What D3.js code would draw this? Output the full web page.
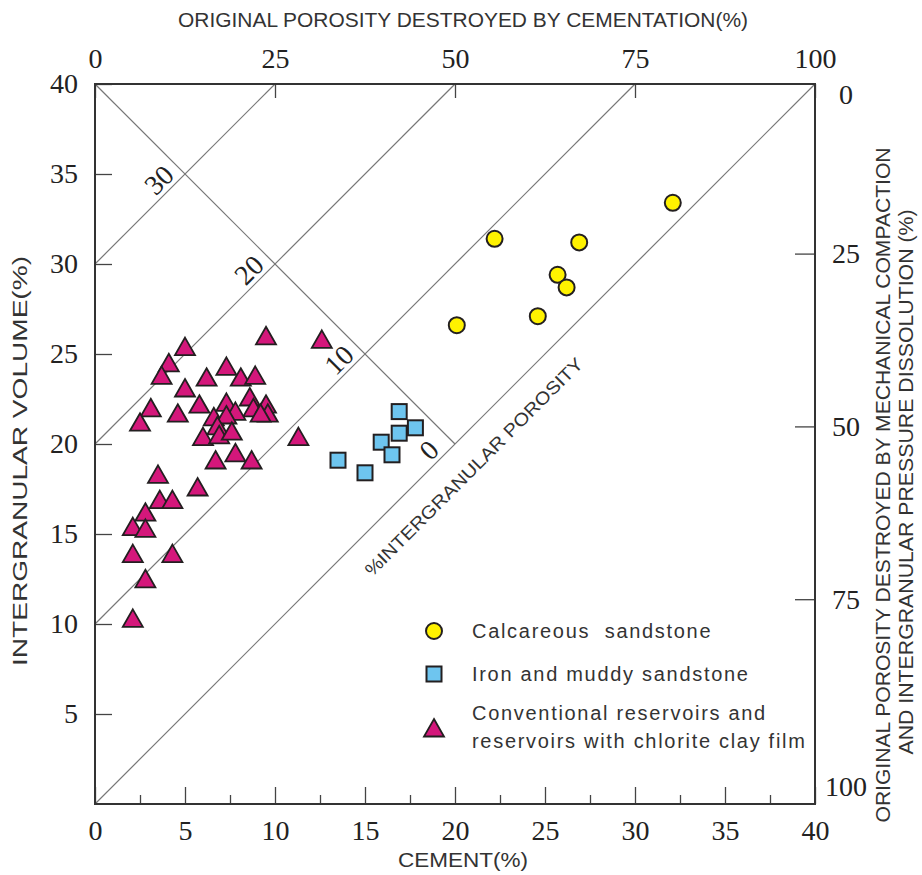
<!DOCTYPE html>
<html>
<head>
<meta charset="utf-8">
<script src="https://d3js.org/d3.v7.min.js"></script>
<style>
  body { margin: 0; background: #fff; }
  .tick line { stroke: #444; stroke-width: 1.3; }
  .sans { font-family: "Liberation Sans Narrow", "Liberation Sans", Arial, sans-serif; fill: #333; }
  .legend { font-family: "Liberation Sans", Arial, sans-serif; font-size: 20px; fill: #333; letter-spacing: 1.7px; }
  .guide { stroke: #777; stroke-width: 1.2; fill: none; }
</style>
</head>
<body>
<svg id="chart" width="922" height="875"></svg>
<script>
// axis ticks
var cementTicks = [0, 5, 10, 15, 20, 25, 30, 35, 40];
var cementMinor = [2.5, 7.5, 12.5, 17.5, 22.5, 27.5, 32.5, 37.5];
var igvTicks = [5, 10, 15, 20, 25, 30, 35, 40];
var cementPctTicks = [0, 25, 50, 75, 100];
var compactPctTicks = [0, 25, 50, 75, 100];
var compactPctIgv = [40, 30.55, 20.95, 11.35, 0]; // where the right-hand labels sit, in IGV units
var porosityLevels = [0, 10, 20, 30];

// calcareous sandstone
var calcX = [20.1, 22.2, 24.6, 25.7, 26.2, 26.9, 32.1];
var calcY = [26.6, 31.4, 27.1, 29.4, 28.7, 31.2, 33.4];
// iron and muddy sandstone
var ironX = [13.5, 15.0, 15.9, 16.5, 16.9, 16.9, 17.8];
var ironY = [19.1, 18.4, 20.1, 19.4, 20.6, 21.8, 20.9];
// conventional reservoirs / chlorite clay film
var convX = [9.5, 12.6, 5.0, 4.1, 3.7, 7.3, 6.2, 8.1, 8.9, 5.0, 3.1, 2.5, 4.6, 5.8,
             7.3, 8.6, 8.8, 9.5, 9.6, 9.2, 7.8, 6.6, 7.3, 6.8, 6.0, 6.9, 7.6, 11.3,
             6.7, 7.8, 8.7, 3.5, 5.7, 3.6, 4.3, 2.8, 2.1, 2.8, 2.1, 4.3, 2.8, 2.1];
var convY = [25.9, 25.7, 25.3, 24.4, 23.7, 24.2, 23.6, 23.6, 23.7, 23.0, 21.9, 21.1, 21.6, 22.1,
             22.2, 22.5, 21.9, 22.1, 21.6, 21.6, 21.7, 21.4, 21.5, 20.9, 20.3, 20.4, 20.6, 20.3,
             19.0, 19.4, 19.0, 18.2, 17.5, 16.8, 16.8, 16.1, 15.3, 15.2, 13.8, 13.8, 12.4, 10.2];

var serif = "'Liberation Serif', 'DejaVu Serif', serif";

var svg = d3.select("#chart");
var pL = 95, pR = 815, pT = 84, pB = 804;

var x = d3.scaleLinear().domain([0, 40]).range([pL, pR]);
var y = d3.scaleLinear().domain([0, 40]).range([pB, pT]);
var xTop = d3.scaleLinear().domain([0, 100]).range([pL, pR]);
var rightPct = d3.scaleLinear().domain(compactPctTicks).range(compactPctIgv);
var yRight = function (p) { return y(rightPct(p)); };

// porosity guide lines (IGV = cement + c)
svg.selectAll(".pline").data(porosityLevels).enter().append("line")
  .attr("class", "guide")
  .attr("x1", function (c) { return x(0); })
  .attr("y1", function (c) { return y(c); })
  .attr("x2", function (c) { return x(40 - c); })
  .attr("y2", function (c) { return y(40); });

// the anti-diagonal the porosity labels sit on
svg.append("line").attr("class", "guide")
  .attr("x1", x(0)).attr("y1", y(40))
  .attr("x2", x(20)).attr("y2", y(20));

svg.selectAll(".plabel").data(porosityLevels).enter().append("text")
  .attr("class", "num")
  .attr("text-anchor", "middle")
  .attr("dominant-baseline", "central")
  .attr("transform", function (c) {
    var px = x((40 - c) / 2) - 26, py = y((40 + c) / 2) + 6;
    return "translate(" + px + "," + py + ") rotate(-45)";
  })
  .text(function (c) { return c; });

// axes
svg.append("g").attr("transform", "translate(0," + pB + ")")
  .call(d3.axisBottom(x).tickValues(cementTicks).tickSizeInner(-17).tickSizeOuter(0).tickPadding(16));
svg.append("g").attr("transform", "translate(0," + pB + ")")
  .call(d3.axisBottom(x).tickValues(cementMinor).tickSizeInner(-9).tickSizeOuter(0).tickFormat(""));
svg.append("g").attr("transform", "translate(" + pL + ",0)")
  .call(d3.axisLeft(y).tickValues(igvTicks).tickSizeInner(-17).tickSizeOuter(0).tickPadding(17));
svg.append("g").attr("transform", "translate(0," + pT + ")")
  .call(d3.axisTop(xTop).tickValues(cementPctTicks).tickSizeInner(-14).tickSizeOuter(0).tickPadding(16));

var gR = svg.append("g").attr("transform", "translate(" + pR + ",0)");
var rt = gR.selectAll("g").data(compactPctTicks).enter().append("g").attr("class", "tick");
rt.append("line").attr("x1", 0).attr("x2", -20)
  .attr("y1", function (p) { return yRight(p); }).attr("y2", function (p) { return yRight(p); });
rt.append("text").attr("x", 31).attr("text-anchor", "middle").attr("dy", "0.32em")
  .attr("y", function (p) { return Math.min(Math.max(yRight(p), pT + 11), pB - 17); })
  .text(function (p) { return p; });

svg.selectAll(".domain").remove();
svg.selectAll(".tick text").classed("num", true);
svg.selectAll("text.num")
  .style("font-family", serif)
  .style("font-size", "28px")
  .style("fill", "#222");

// frame
svg.append("rect").attr("x", pL).attr("y", pT)
  .attr("width", pR - pL).attr("height", pB - pT)
  .attr("fill", "none").attr("stroke", "#333").attr("stroke-width", 2);

// axis titles
svg.append("text").attr("class", "sans").attr("x", 463).attr("y", 27)
  .attr("text-anchor", "middle").attr("font-size", 20)
  .attr("textLength", 570).attr("lengthAdjust", "spacingAndGlyphs")
  .text("ORIGINAL POROSITY DESTROYED BY CEMENTATION(%)");
svg.append("text").attr("class", "sans").attr("x", 463).attr("y", 867)
  .attr("text-anchor", "middle").attr("font-size", 20)
  .attr("textLength", 130).attr("lengthAdjust", "spacingAndGlyphs")
  .text("CEMENT(%)");
svg.append("text").attr("class", "sans")
  .attr("transform", "translate(27,461) rotate(-90)")
  .attr("text-anchor", "middle").attr("font-size", 20)
  .attr("textLength", 410).attr("lengthAdjust", "spacingAndGlyphs")
  .text("INTERGRANULAR VOLUME(%)");
svg.append("text").attr("class", "sans")
  .attr("transform", "translate(890,485) rotate(-90)")
  .attr("text-anchor", "middle").attr("font-size", 20)
  .attr("textLength", 675).attr("lengthAdjust", "spacingAndGlyphs")
  .text("ORIGINAL POROSITY DESTROYED BY MECHANICAL COMPACTION");
svg.append("text").attr("class", "sans")
  .attr("transform", "translate(913,482) rotate(-90)")
  .attr("text-anchor", "middle").attr("font-size", 20)
  .attr("textLength", 545).attr("lengthAdjust", "spacingAndGlyphs")
  .text("AND INTERGRANULAR PRESSURE DISSOLUTION (%)");

// %INTERGRANULAR POROSITY along the 1:1 line
svg.append("text").attr("class", "sans")
  .attr("transform", "translate(474,467) rotate(-45)")
  .attr("text-anchor", "middle").attr("dominant-baseline", "central")
  .attr("font-size", 18)
  .attr("textLength", 300).attr("lengthAdjust", "spacingAndGlyphs")
  .text("%INTERGRANULAR POROSITY");

// markers
var ink = "#231f20";
var tri = "M0,-11L10,6.5L-10,6.5Z";
function zip(a, b) { return a.map(function (v, i) { return [v, b[i]]; }); }

svg.append("g").selectAll("path").data(zip(convX, convY)).enter().append("path")
  .attr("d", tri)
  .attr("transform", function (d) { return "translate(" + x(d[0]) + "," + y(d[1]) + ")"; })
  .attr("fill", "#d4177b").attr("stroke", ink).attr("stroke-width", 1.8);

svg.append("g").selectAll("rect").data(zip(ironX, ironY)).enter().append("rect")
  .attr("x", function (d) { return x(d[0]) - 7.5; })
  .attr("y", function (d) { return y(d[1]) - 7.5; })
  .attr("width", 15).attr("height", 15)
  .attr("fill", "#6ec5ef").attr("stroke", ink).attr("stroke-width", 2);

svg.append("g").selectAll("circle").data(zip(calcX, calcY)).enter().append("circle")
  .attr("cx", function (d) { return x(d[0]); })
  .attr("cy", function (d) { return y(d[1]); })
  .attr("r", 8).attr("fill", "#fff200").attr("stroke", ink).attr("stroke-width", 2);

// legend
var lg = svg.append("g");
lg.append("circle").attr("cx", 434).attr("cy", 631).attr("r", 8)
  .attr("fill", "#fff200").attr("stroke", ink).attr("stroke-width", 2);
lg.append("rect").attr("x", 426.5).attr("y", 666.5).attr("width", 15).attr("height", 15)
  .attr("fill", "#6ec5ef").attr("stroke", ink).attr("stroke-width", 2);
lg.append("path").attr("d", tri).attr("transform", "translate(434,730)")
  .attr("fill", "#d4177b").attr("stroke", ink).attr("stroke-width", 1.8);

var legendText = [
  ["Calcareous  sandstone", 638],
  ["Iron and muddy sandstone", 681],
  ["Conventional reservoirs and", 720],
  ["reservoirs with chlorite clay film", 748]
];
lg.selectAll("text").data(legendText).enter().append("text")
  .attr("class", "legend").attr("x", 472)
  .attr("y", function (d) { return d[1]; })
  .style("white-space", "pre")
  .text(function (d) { return d[0]; });
</script>
</body>
</html>
